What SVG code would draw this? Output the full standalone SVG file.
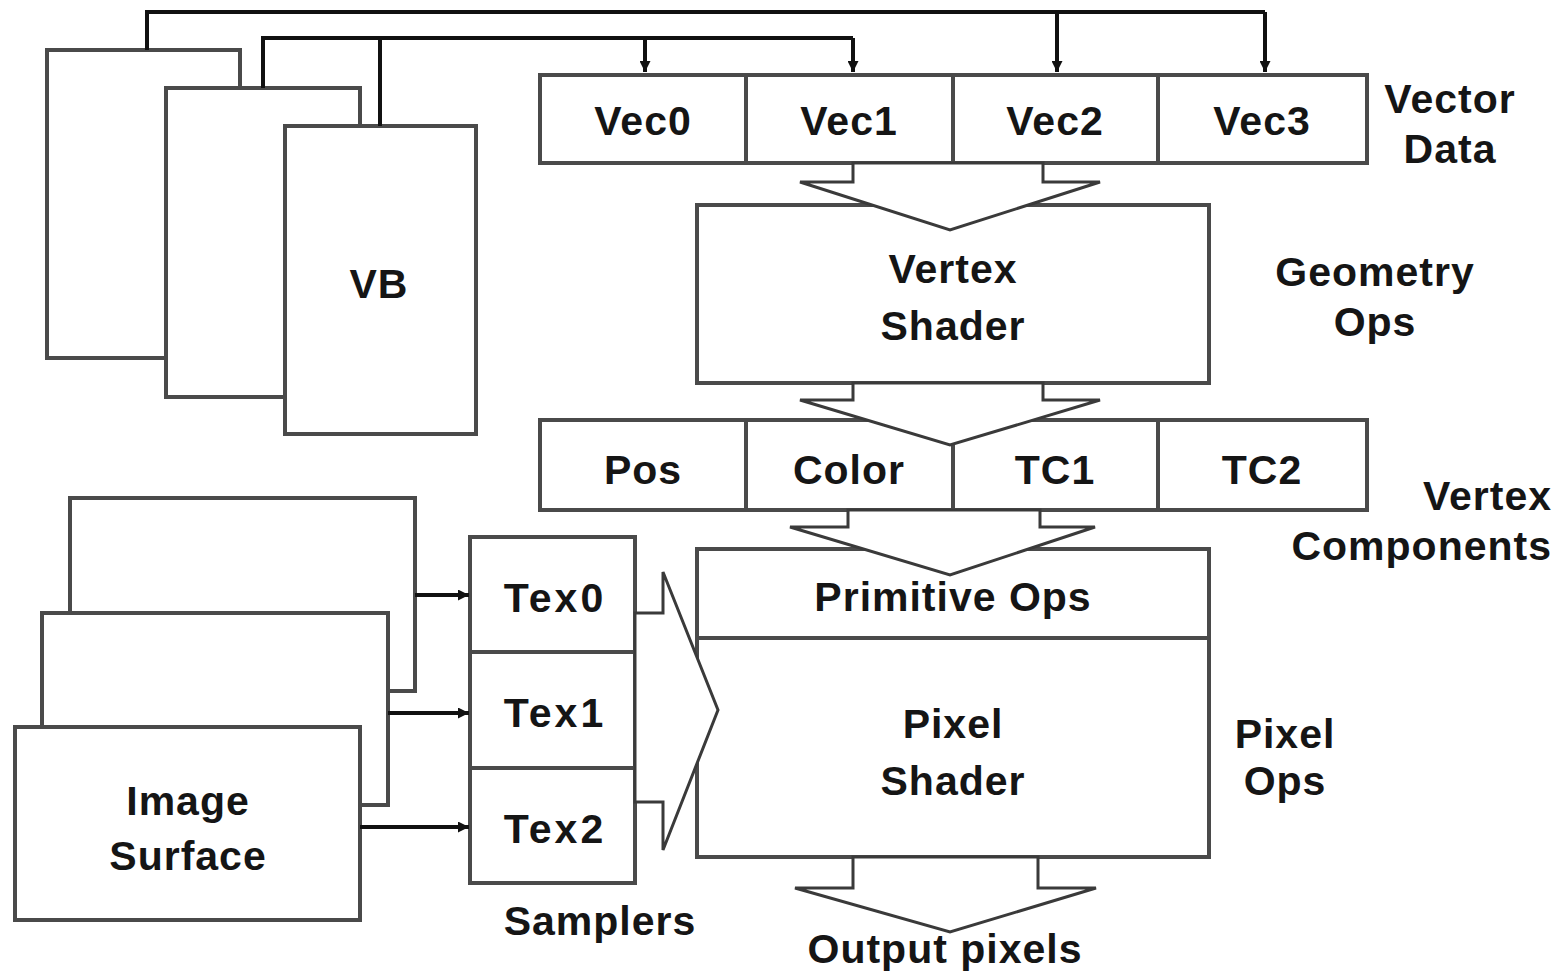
<svg xmlns="http://www.w3.org/2000/svg" width="1562" height="971" viewBox="0 0 1562 971">
<defs>
<marker id="ah" viewBox="0 0 10 10" refX="10" refY="5" markerWidth="13" markerHeight="11" markerUnits="userSpaceOnUse" orient="auto">
<path d="M0,0 L10,5 L0,10 z" fill="#111"/>
</marker>
<style>
.box{fill:#fff;stroke:#4a4a4a;stroke-width:4}
.div{stroke:#4a4a4a;stroke-width:4;fill:none}
.t{font-family:"Liberation Sans",Arial,sans-serif;font-weight:bold;font-size:41px;fill:#151515;text-anchor:middle;letter-spacing:1px}
.tx{letter-spacing:3px}
.r{text-anchor:end}
.wire{stroke:#111;stroke-width:4;fill:none}
.wide{fill:#fff;stroke:#3a3a3a;stroke-width:3;stroke-linejoin:miter}
</style>
</defs>
<rect width="1562" height="971" fill="#fff"/>

<g id="vb-stack">
<rect class="box" x="47" y="50" width="193" height="308"/>
<rect class="box" x="166" y="88" width="194" height="309"/>
<rect class="box" x="285" y="126" width="191" height="308"/>
<text class="t" x="379" y="298">VB</text>
</g>

<g id="vector-data">
<rect class="box" x="540" y="75" width="827" height="88"/>
<line class="div" x1="746" y1="75" x2="746" y2="163"/>
<line class="div" x1="953" y1="75" x2="953" y2="163"/>
<line class="div" x1="1158" y1="75" x2="1158" y2="163"/>
<text class="t" x="643" y="135">Vec0</text>
<text class="t" x="849" y="135">Vec1</text>
<text class="t" x="1055" y="135">Vec2</text>
<text class="t" x="1262" y="135">Vec3</text>
</g>

<g id="vertex-shader">
<rect class="box" x="697" y="205" width="512" height="178"/>
<text class="t" x="953" y="283">Vertex</text>
<text class="t" x="953" y="340">Shader</text>
</g>

<g id="vertex-components">
<rect class="box" x="540" y="420" width="827" height="90"/>
<line class="div" x1="746" y1="420" x2="746" y2="510"/>
<line class="div" x1="953" y1="420" x2="953" y2="510"/>
<line class="div" x1="1158" y1="420" x2="1158" y2="510"/>
<text class="t" x="643" y="484">Pos</text>
<text class="t" x="849" y="484">Color</text>
<text class="t" x="1055" y="484">TC1</text>
<text class="t" x="1262" y="484">TC2</text>
</g>

<g id="pixel-stage">
<rect class="box" x="697" y="549" width="512" height="308"/>
<line class="div" x1="697" y1="638" x2="1209" y2="638"/>
<text class="t" x="953" y="611">Primitive Ops</text>
<text class="t" x="953" y="738">Pixel</text>
<text class="t" x="953" y="795">Shader</text>
</g>

<g id="image-stack">
<rect class="box" x="70" y="498" width="345" height="193"/>
<rect class="box" x="42" y="613" width="346" height="192"/>
<rect class="box" x="15" y="727" width="345" height="193"/>
<text class="t" x="188" y="815">Image</text>
<text class="t" x="188" y="870">Surface</text>
</g>

<g id="samplers">
<rect class="box" x="470" y="537" width="165" height="346"/>
<line class="div" x1="470" y1="652" x2="635" y2="652"/>
<line class="div" x1="470" y1="768" x2="635" y2="768"/>
<text class="t tx" x="555" y="612">Tex0</text>
<text class="t tx" x="555" y="727">Tex1</text>
<text class="t tx" x="555" y="843">Tex2</text>
</g>

<g id="connectors">
<polyline class="wire" points="147,50 147,12 1265,12"/>
<line class="wire" x1="1057" y1="12" x2="1057" y2="72" marker-end="url(#ah)"/>
<line class="wire" x1="1265" y1="12" x2="1265" y2="72" marker-end="url(#ah)"/>
<polyline class="wire" points="263,88 263,38 853,38"/>
<line class="wire" x1="380" y1="38" x2="380" y2="126"/>
<line class="wire" x1="645" y1="38" x2="645" y2="72" marker-end="url(#ah)"/>
<line class="wire" x1="853" y1="38" x2="853" y2="72" marker-end="url(#ah)"/>
<line class="wire" x1="415" y1="595" x2="469" y2="595" marker-end="url(#ah)"/>
<line class="wire" x1="388" y1="713" x2="469" y2="713" marker-end="url(#ah)"/>
<line class="wire" x1="360" y1="827" x2="469" y2="827" marker-end="url(#ah)"/>
<polygon class="wide" points="853,163 853,182 800,182 950,230 1100,182 1043,182 1043,163"/>
<polygon class="wide" points="853,383 853,400 800,400 950,445 1100,400 1043,400 1043,383"/>
<polygon class="wide" points="848,510 848,527 790,527 950,575 1095,527 1040,527 1040,510"/>
<polygon class="wide" points="853,857 853,888 795,888 950,932 1096,888 1038,888 1038,857"/>
<polygon class="wide" points="635,613 663,613 663,572 718,710 663,850 663,802 635,802"/>
</g>

<g id="labels">
<text class="t" x="600" y="935">Samplers</text>
<text class="t" x="945" y="963">Output pixels</text>
<text class="t" x="1450" y="113">Vector</text>
<text class="t" x="1450" y="163">Data</text>
<text class="t" x="1375" y="286">Geometry</text>
<text class="t" x="1375" y="336">Ops</text>
<text class="t r" x="1552" y="510">Vertex</text>
<text class="t r" x="1552" y="560">Components</text>
<text class="t" x="1285" y="748">Pixel</text>
<text class="t" x="1285" y="795">Ops</text>
</g>
</svg>
